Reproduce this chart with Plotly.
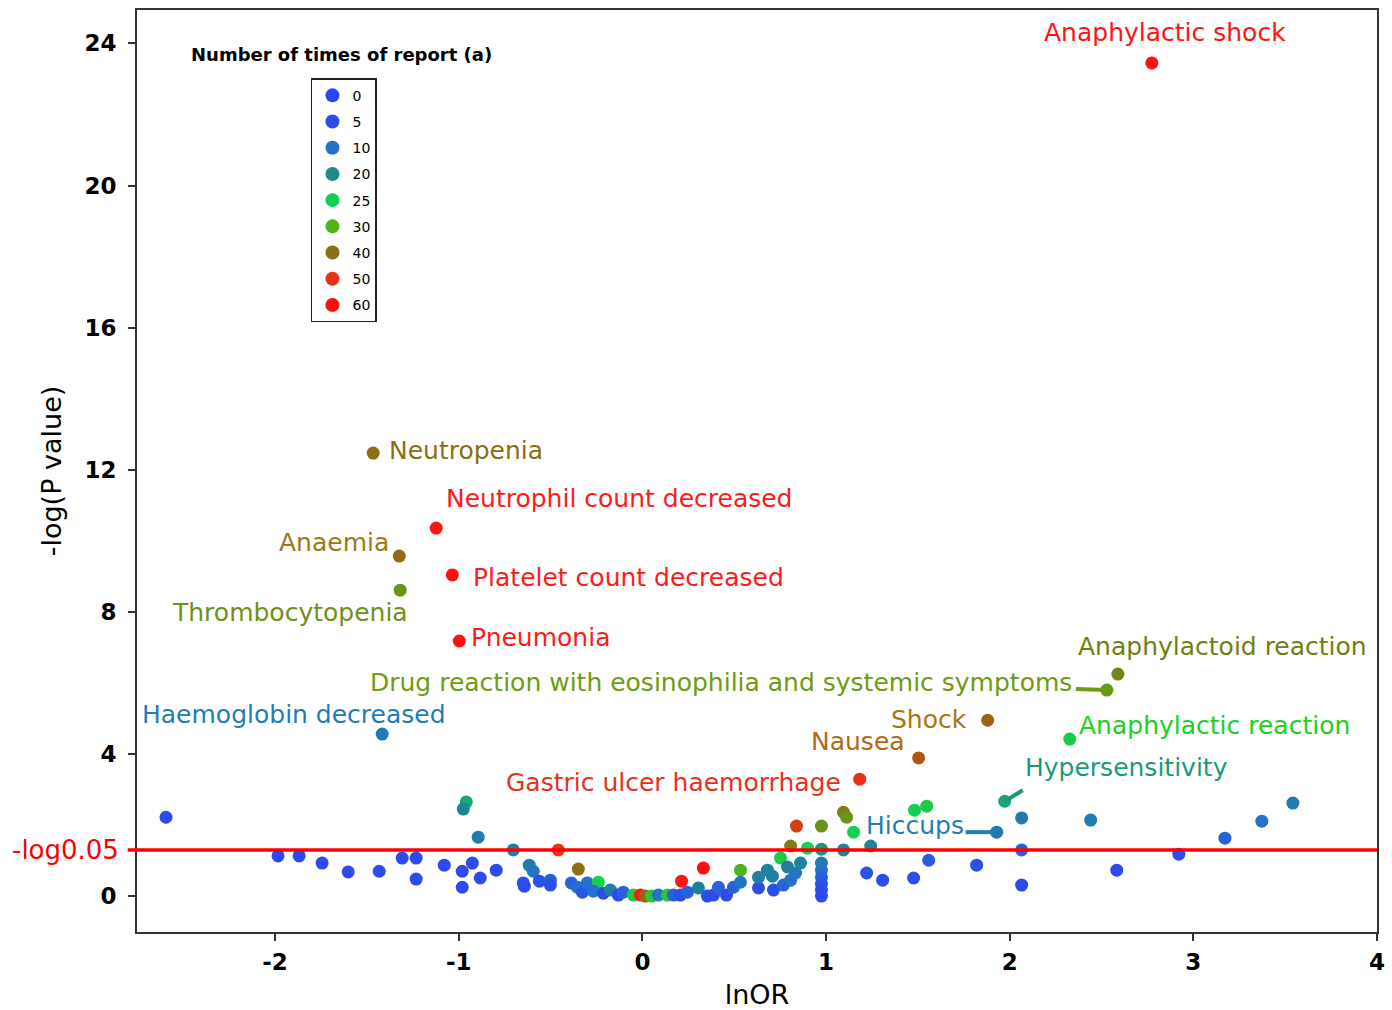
import plotly.graph_objects as go

# ---------------- data ----------------
label_names = ["Anaphylactic shock", "Neutropenia", "Neutrophil count decreased", "Anaemia",
               "Platelet count decreased", "Thrombocytopenia", "Pneumonia", "Anaphylactoid reaction",
               "Drug reaction with eosinophilia and systemic symptoms", "Haemoglobin decreased",
               "Shock", "Nausea", "Anaphylactic reaction", "Gastric ulcer haemorrhage",
               "Hypersensitivity", "Hiccups"]
label_lnor = [2.774, -1.466, -1.123, -1.324, -1.035, -1.319, -0.997, 2.589, 2.529, -1.417,
              1.880, 1.504, 2.327, 1.183, 1.973, 1.929]
label_logp = [23.45, 12.47, 10.36, 9.57, 9.04, 8.61, 7.18, 6.25, 5.80, 4.56,
              4.95, 3.89, 4.42, 3.29, 2.67, 1.80]
label_count = [60, 40, 58, 41, 60, 35, 60, 37, 34, 13, 42, 44, 26, 50, 22, 14]
label_colors = ["#ff1414", "#8a6f12", "#ff1a1a", "#9a7a18", "#ff1a1a", "#6f8f16", "#ff1a1a",
                "#6f7f12", "#6f9a12", "#1f7db5", "#a8760e", "#b06a10", "#20d020", "#e83020",
                "#1a9a78", "#1f80b0"]

other_lnor = [-2.594, -1.984, -1.869, -1.744, -1.602, -1.433, -1.308, -1.232, -1.232, -1.079,
              -0.959, -0.975, -0.894, -0.981, -0.926, -0.883, -0.981, -0.796, -0.703, -0.643,
              -0.649, -0.616, -0.594, -0.561, -0.501, -0.501, -0.458, -0.349, -0.387, -0.354,
              -0.327, -0.300, -0.240, -0.267, -0.213, -0.174, -0.131, -0.104, -0.049, -0.011,
              0.016, 0.049, 0.087, 0.136, 0.169, 0.207, 0.245, 0.213, 0.332, 0.305,
              0.354, 0.387, 0.414, 0.458, 0.496, 0.534, 0.534, 0.632, 0.632, 0.681,
              0.714, 0.708, 0.752, 0.790, 0.768, 0.807, 0.834, 0.861, 0.807, 0.839,
              0.899, 0.975, 0.975, 0.975, 0.975, 0.975, 0.975, 0.975, 0.975, 1.095,
              1.112, 1.150, 1.095, 1.243, 1.221, 1.308, 1.482, 1.548, 1.477, 1.559,
              1.820, 2.065, 2.065, 2.065, 2.441, 2.583, 2.921, 3.172, 3.373, 3.542]
other_logp = [2.22, 1.13, 1.13, 0.93, 0.68, 0.70, 1.07, 1.07, 0.48, 0.87,
              2.65, 2.45, 1.66, 0.70, 0.93, 0.51, 0.25, 0.73, 1.30, 0.28,
              0.37, 0.87, 0.70, 0.42, 0.45, 0.31, 1.30, 0.76, 0.37, 0.25,
              0.11, 0.37, 0.39, 0.14, 0.08, 0.17, 0.03, 0.11, 0.03, 0.03,
              0.00, 0.00, 0.03, 0.03, 0.03, 0.03, 0.11, 0.42, 0.79, 0.23,
              0.00, 0.03, 0.25, 0.03, 0.25, 0.73, 0.39, 0.23, 0.53, 0.73,
              0.17, 0.56, 1.07, 0.82, 0.31, 0.45, 0.65, 0.93, 1.41, 1.97,
              1.35, 1.97, 1.32, 0.93, 0.73, 0.53, 0.34, 0.17, 0.00, 2.36,
              2.22, 1.80, 1.30, 1.41, 0.65, 0.45, 2.42, 2.53, 0.51, 1.01,
              0.87, 2.20, 1.30, 0.31, 2.14, 0.73, 1.18, 1.63, 2.11, 2.62]
other_count = [3, 3, 3, 3, 3, 3, 3, 3, 3, 3,
               22, 19, 15, 3, 3, 4, 3, 4, 17, 3,
               4, 15, 12, 6, 8, 5, 50, 40, 8, 10,
               6, 10, 25, 10, 5, 16, 5, 8, 26, 55,
               42, 27, 12, 27, 8, 5, 8, 58, 60, 17,
               5, 5, 8, 5, 8, 30, 12, 5, 16, 17,
               5, 16, 26, 17, 8, 10, 12, 17, 38, 48,
               25, 35, 21, 14, 11, 8, 6, 4, 3, 38,
               35, 25, 18, 18, 6, 5, 25, 26, 4, 7,
               5, 14, 7, 3, 14, 3, 4, 8, 11, 14]

legend_counts = [0, 5, 10, 20, 25, 30, 40, 50, 60]
legend_colors = ["#2b45f5", "#2c4ee8", "#2470cf", "#1a8a8a", "#12d052", "#4cb51c",
                 "#8a7012", "#e8301a", "#ff1010"]

threshold = 1.301  # -log10(0.05)
x_ticks = [-2, -1, 0, 1, 2, 3, 4]
y_ticks = [0, 4, 8, 12, 16, 20, 24]

# ---------------- styling ----------------
FONT = "DejaVu Sans"
cmax = 60
colorscale = [[c / cmax, col] for c, col in zip(legend_counts, legend_colors)]

# label placement (pixel offsets from the point, anchor)
label_layout = [
    (13, 30, "center"), (14, 3, "left"), (8, 30, "left"), (-8, 14, "right"),
    (19, -3, "left"), (10, -22, "right"), (10, 4, "left"), (-42, 28, "left"),
    (-33, 8, "right"), (66, 20, "right"), (-19, 1, "right"), (-12, 16, "right"),
    (7, 14, "left"), (-17, -3, "right"), (18, 34, "left"), (-31, 7, "right"),
]

fig = go.Figure()

all_x = other_lnor + label_lnor
all_y = other_logp + label_logp
all_c = other_count + label_count

fig.add_trace(go.Scatter(
    x=all_x, y=all_y, mode="markers",
    marker=dict(size=13, color=all_c, colorscale=colorscale, cmin=0, cmax=cmax,
                showscale=False, line=dict(width=0)),
    showlegend=False, hoverinfo="x+y",
))

for i, (cnt, col) in enumerate(zip(legend_counts, legend_colors)):
    fig.add_trace(go.Scatter(
        x=[None], y=[None], mode="markers", name=str(cnt),
        marker=dict(size=14, color=col), legendgroup=f"g{i}", showlegend=True,
    ))

# threshold line
fig.add_shape(type="line", xref="paper", yref="y", x0=-0.0075, x1=1, y0=threshold, y1=threshold,
              line=dict(color="#ff0000", width=3.5), layer="above")

annotations = []
for name, x, y, col, (dx, dy, anc) in zip(label_names, label_lnor, label_logp, label_colors, label_layout):
    annotations.append(dict(
        x=x, y=y, xref="x", yref="y", text=name, showarrow=False,
        xanchor=anc, yanchor="middle", xshift=dx, yshift=dy,
        font=dict(family=FONT, size=25, color=col),
    ))

# connector lines for a few labels
connectors = {
    "Drug reaction with eosinophilia and systemic symptoms": (-31, 1, 0, 0),
    "Hiccups": (-31, 0, 0, 0),
    "Hypersensitivity": (0, 0, 18, 11),
}
for name, (px0, py0, px1, py1) in connectors.items():
    k = label_names.index(name)
    fig.add_shape(type="line", xref="x", yref="y", xsizemode="pixel", ysizemode="pixel",
                  xanchor=label_lnor[k], yanchor=label_logp[k],
                  x0=px0, x1=px1, y0=py0, y1=py1,
                  line=dict(color=label_colors[k], width=4))

annotations.append(dict(
    x=-0.01, y=threshold, xref="paper", yref="y", text="-log0.05", showarrow=False,
    xanchor="right", yanchor="middle", xshift=-4,
    font=dict(family=FONT, size=26, color="#ff0000"),
))
annotations.append(dict(
    x=0.1653, y=0.952, xref="paper", yref="paper", text="<b>Number of times of report (a)</b>",
    showarrow=False, xanchor="center", yanchor="middle",
    font=dict(family=FONT, size=18, color="#000000"),
))

fig.update_layout(
    width=1392, height=1010,
    margin=dict(l=137, r=15, t=10, b=78, autoexpand=False),
    paper_bgcolor="white", plot_bgcolor="white",
    font=dict(family=FONT, color="#000000"),
    annotations=annotations,
    legend=dict(
        x=0.1403, y=0.926, xanchor="left", yanchor="top",
        bordercolor="#222222", borderwidth=1.5, bgcolor="white",
        font=dict(family=FONT, size=14, color="#000000"),
        tracegroupgap=5, traceorder="grouped", itemwidth=30,
    ),
    xaxis=dict(
        range=[-2.752, 4.0], tickmode="array", tickvals=x_ticks,
        ticktext=[str(v) for v in x_ticks], automargin=False,
        showgrid=False, zeroline=False, showline=True, linecolor="#333333", linewidth=2,
        mirror=True, ticks="outside", ticklen=7, tickwidth=1.5, tickcolor="#333333",
        tickfont=dict(family=FONT, size=23, color="#000000", weight="bold"),
        ticklabelstandoff=1,
        title=dict(text="lnOR", font=dict(family=FONT, size=27, color="#000000"), standoff=27),
    ),
    yaxis=dict(
        range=[-1.01, 24.94], tickmode="array", tickvals=y_ticks,
        ticktext=[str(v) for v in y_ticks], automargin=False,
        showgrid=False, zeroline=False, showline=True, linecolor="#333333", linewidth=2,
        mirror=True, ticks="outside", ticklen=7, tickwidth=1.5, tickcolor="#333333",
        tickfont=dict(family=FONT, size=23, color="#000000", weight="bold"),
        ticklabelstandoff=7,
        title=dict(text="-log(P value)", font=dict(family=FONT, size=27, color="#000000"), standoff=15),
    ),
)

fig.write_html("out.html")
